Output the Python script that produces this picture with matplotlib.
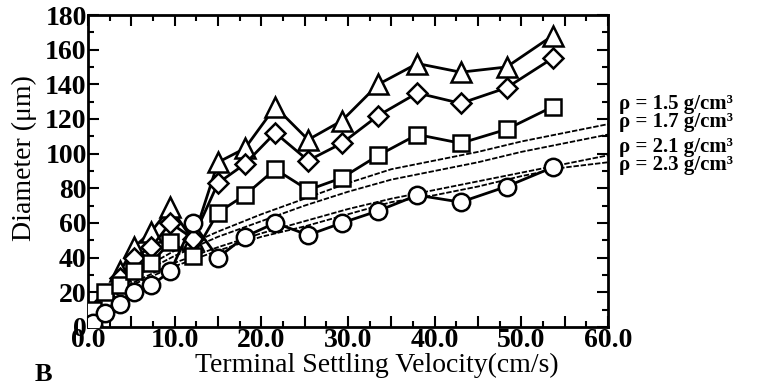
import matplotlib
matplotlib.use("Agg")
import matplotlib.pyplot as plt
from matplotlib.ticker import MultipleLocator, FuncFormatter

plt.rcParams['font.family'] = ['Liberation Serif', 'DejaVu Serif']
plt.rcParams['font.weight'] = 'bold'

# measured settling velocity (cm/s) and diameter (um)
vel = [0.6, 2.0, 3.7, 5.3, 7.3, 9.5, 12.1, 15.0, 18.1, 21.6, 25.4, 29.3, 33.5, 38.0, 43.0, 48.3, 53.6]
d_tri = [5, 18, 32, 46, 55, 69, 50, 95, 103, 127, 108, 119, 140, 152, 147, 150, 168]
d_dia = [4, 15, 28, 40, 46, 60, 51, 83, 94, 112, 96, 106, 122, 135, 129, 138, 155]
d_sq = [10, 20, 24, 32, 37, 49, 41, 66, 76, 91, 79, 86, 99, 111, 106, 114, 127]
d_circ = [2, 8, 13, 20, 24, 32, 60, 40, 52, 60, 53, 60, 67, 76, 72, 81, 92]

# model curves for each particle density
v_model = [0, 2.5, 5, 10, 15, 20, 25, 30, 35, 40, 45, 50, 55, 60]
d_rho15 = [0, 20, 30, 44, 55, 65, 74, 83, 91, 96, 101, 107, 112, 117]
d_rho17 = [0, 19, 28, 41, 52, 61, 70, 78, 85, 90, 95, 101, 106, 111]
d_rho21 = [0, 17, 25, 37, 46, 54, 61, 68, 74, 79, 84, 89, 94, 99]
d_rho23 = [0, 16, 24, 35, 44, 52, 58, 65, 72, 76, 81, 87, 92, 95]
rho_labels = ['ρ = 1.5 g/cm³', 'ρ = 1.7 g/cm³', 'ρ = 2.1 g/cm³', 'ρ = 2.3 g/cm³']

fig = plt.figure(figsize=(7.59, 3.85), dpi=100)
ax = fig.add_axes([0.116, 0.151, 0.685, 0.810])

for d in [d_rho15, d_rho17, d_rho21, d_rho23]:
    ax.plot(v_model, d, color='black', lw=1.3, ls=(0, (3, 1)), zorder=2)

mk = dict(color='black', lw=2, mfc='white', mec='black', mew=1.8, zorder=3)
ax.plot(vel, d_tri, marker='^', ms=14, **mk)
ax.plot(vel, d_dia, marker='D', ms=10, **mk)
ax.plot(vel, d_sq, marker='s', ms=11.5, **mk)
ax.plot(vel, d_circ, marker='o', ms=12.5, **mk)

ax.set_xlim(0, 60)
ax.set_ylim(0, 180)
ax.xaxis.set_major_locator(MultipleLocator(5))
ax.xaxis.set_minor_locator(MultipleLocator(2.5))
ax.yaxis.set_major_locator(MultipleLocator(20))
ax.yaxis.set_minor_locator(MultipleLocator(10))
ax.xaxis.set_major_formatter(FuncFormatter(lambda v, p: '%.1f' % v if v % 10 == 0 else ''))
ax.tick_params(which='both', direction='in', top=True, right=True, width=1.5)
ax.tick_params(which='major', length=8, labelsize=20, pad=1)
ax.tick_params(which='minor', length=4)
for s in ax.spines.values():
    s.set_linewidth(2)

ax.set_xlabel('Terminal Settling Velocity(cm/s)', fontsize=20)
ax.xaxis.set_label_coords(0.556, -0.125)
ax.xaxis.label.set_va('center')
ax.set_ylabel('Diameter (μm)', fontsize=20)
ax.yaxis.set_label_coords(-0.123, 0.54)
ax.yaxis.label.set_va('center')

for lab, yy in zip(rho_labels, [0.731, 0.682, 0.619, 0.571]):
    fig.text(0.815, yy, lab, fontsize=15, va='center', ha='left')

fig.text(0.046, 0.01, 'B', fontsize=19)

fig.savefig('out.png', dpi=100)
